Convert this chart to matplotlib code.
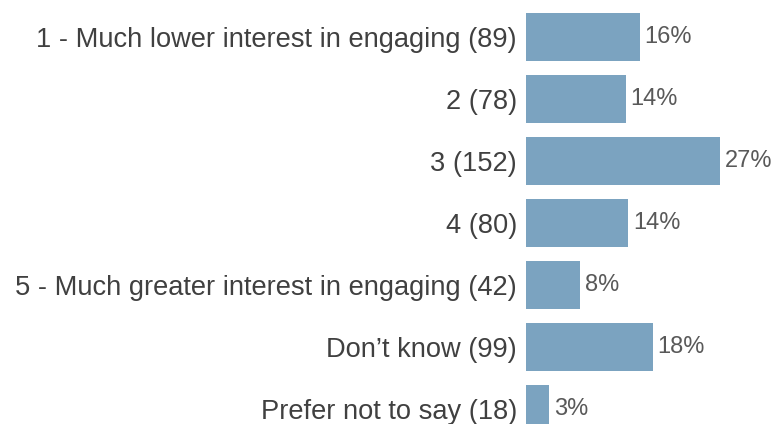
import matplotlib.pyplot as plt

labels = ["1 - Much lower interest in engaging (89)", "2 (78)", "3 (152)", "4 (80)",
          "5 - Much greater interest in engaging (42)", "Don\u2019t know (99)",
          "Prefer not to say (18)"]
counts = [89, 78, 152, 80, 42, 99, 18]
pct_labels = ["16%", "14%", "27%", "14%", "8%", "18%", "3%"]

total = sum(counts)
pcts = [c / total * 100 for c in counts]

plt.rcParams["font.family"] = ["Liberation Sans", "DejaVu Sans"]

fig = plt.figure(figsize=(7.73, 4.24), dpi=100)
ax = fig.add_axes([526 / 773, 0, 1 - 526 / 773, 1])

ypos = list(range(len(labels)))
ax.barh(ypos, pcts, height=0.77, color="#7BA3C0")
for y, p, t in zip(ypos, pcts, pct_labels):
    ax.annotate(t, (p, y), xytext=(3.5, 0), textcoords="offset points",
                va="center", ha="left", fontsize=17, color="#595959")

ax.set_yticks(ypos)
ax.set_yticklabels(labels, fontsize=19.6, color="#404040")
ax.tick_params(axis="y", length=0, pad=6.5)
ax.set_xticks([])
ax.set_xlim(0, 247 / 7.13)
ax.set_ylim(6.242, -0.597)
for s in ax.spines.values():
    s.set_visible(False)

fig.savefig("out.png", dpi=100)
